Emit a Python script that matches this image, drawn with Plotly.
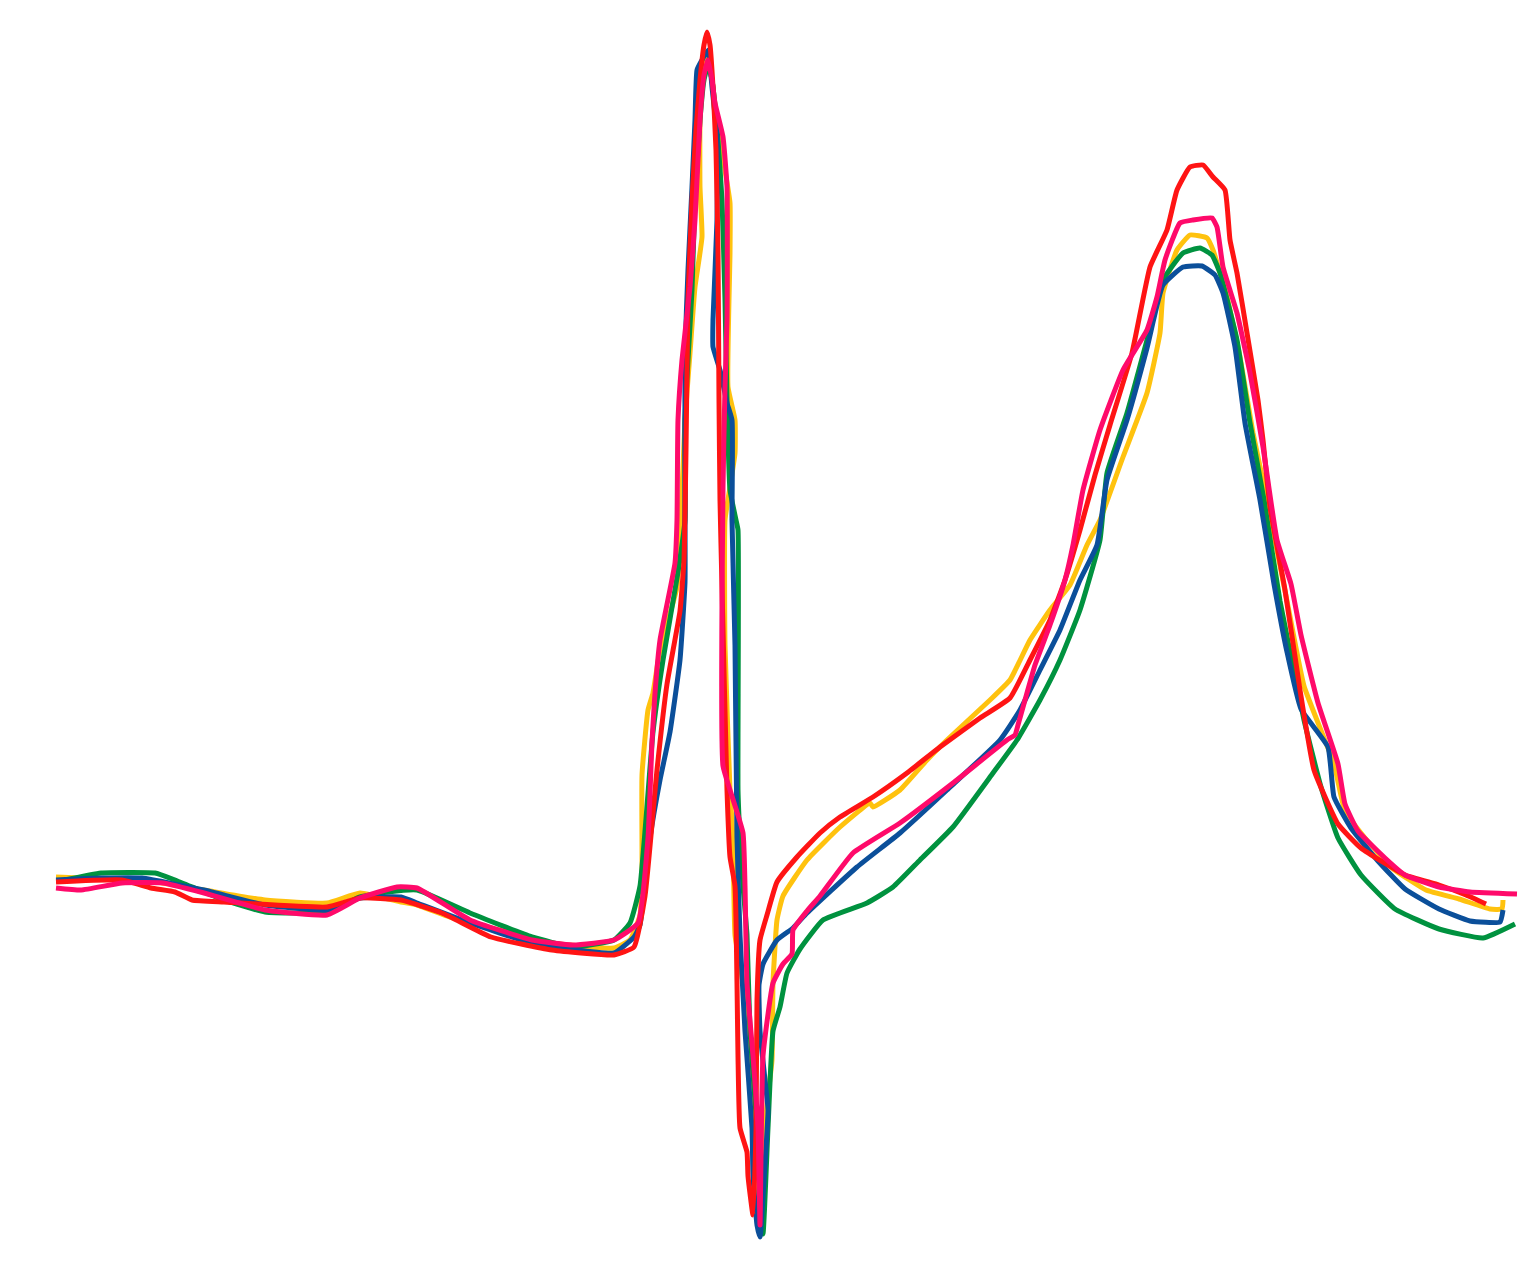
import plotly.graph_objects as go

# time (arbitrary sample units) and amplitude (arbitrary units)
yellow_t = [0, 25, 86, 148, 209, 271, 304, 345, 361, 394, 435, 496, 558, 574, 584, 586, 586, 592, 597, 604, 621, 624, 629, 634, 639, 646, 644, 644, 647, 651, 656, 662, 669, 674, 674, 672, 679, 679, 674, 669, 669, 674, 677, 679, 687, 696, 699, 701, 706, 711, 716, 717, 721, 727, 751, 784, 814, 817, 844, 871, 891, 934, 954, 974, 994, 1014, 1031, 1044, 1067, 1091, 1104, 1107, 1121, 1134, 1151, 1157, 1171, 1184, 1197, 1211, 1231, 1248, 1278, 1289, 1309, 1336, 1370, 1403, 1434, 1446, 1447]
yellow_v = [3, 2, 0, -10, -20, -23, -13, -22, -25, -37, -48, -63, -68, -60, -35, 10, 105, 170, 187, 230, 293, 340, 460, 527, 593, 643, 693, 760, 805, 825, 800, 750, 710, 677, 627, 493, 460, 427, 393, 360, 235, 90, 42, -55, -103, -224, -272, -335, -300, -224, -180, -103, -40, -16, 20, 53, 77, 73, 90, 120, 140, 180, 200, 240, 270, 295, 335, 360, 423, 487, 547, 587, 630, 645, 642, 630, 583, 523, 447, 380, 279, 194, 116, 69, 42, 12, -10, -19, -29, -29, -20]

green_t = [9, 45, 99, 119, 168, 209, 271, 304, 332, 361, 414, 476, 517, 558, 574, 584, 597, 607, 622, 629, 629, 632, 636, 639, 644, 648, 652, 656, 662, 666, 669, 671, 674, 680, 682, 682, 684, 687, 691, 694, 701, 707, 712, 717, 724, 731, 744, 767, 811, 837, 864, 897, 937, 961, 984, 1004, 1024, 1044, 1051, 1071, 1091, 1107, 1127, 1144, 1156, 1164, 1181, 1194, 1208, 1224, 1248, 1265, 1282, 1305, 1339, 1383, 1427, 1459]
green_v = [0, 7, 7, 0, -20, -32, -32, -17, -12, -10, -33, -57, -67, -60, -43, -6, 148, 220, 308, 360, 460, 520, 590, 680, 760, 800, 815, 800, 740, 680, 580, 480, 390, 360, 350, 90, 42, -6, -55, -151, -248, -354, -248, -151, -127, -93, -69, -40, -23, -7, 20, 53, 107, 140, 180, 220, 270, 340, 407, 467, 540, 600, 627, 632, 625, 607, 540, 457, 380, 279, 160, 93, 42, 5, -29, -49, -58, -44]

blue_t = [0, 45, 86, 148, 209, 271, 304, 345, 361, 414, 476, 558, 578, 584, 594, 604, 614, 624, 629, 629, 629, 632, 636, 639, 641, 646, 652, 656, 661, 661, 657, 657, 664, 671, 676, 676, 679, 681, 684, 689, 696, 697, 701, 704, 708, 712, 709, 704, 703, 707, 721, 737, 751, 801, 844, 891, 944, 964, 984, 1004, 1024, 1041, 1051, 1071, 1091, 1107, 1127, 1146, 1159, 1167, 1179, 1189, 1204, 1218, 1231, 1245, 1272, 1278, 1295, 1322, 1349, 1383, 1414, 1444, 1447]
blue_v = [0, 2, 2, -10, -25, -30, -18, -17, -23, -43, -63, -73, -57, -45, 42, 100, 148, 220, 298, 360, 527, 610, 693, 760, 810, 820, 830, 793, 743, 660, 560, 533, 510, 477, 460, 360, 235, 42, -55, -151, -248, -296, -345, -357, -300, -230, -200, -151, -105, -84, -60, -48, -33, 13, 47, 90, 140, 170, 210, 250, 300, 335, 400, 460, 532, 595, 613, 614, 605, 587, 533, 457, 380, 296, 228, 171, 133, 83, 52, 19, -9, -29, -41, -42, -30]

red_t = [0, 66, 95, 119, 136, 168, 271, 304, 345, 386, 435, 496, 558, 578, 589, 601, 611, 624, 628, 630, 632, 636, 640, 644, 648, 651, 654, 657, 660, 662, 663, 664, 666, 671, 674, 679, 681, 682, 684, 691, 692, 697, 700, 701, 704, 711, 721, 741, 764, 784, 817, 851, 884, 924, 954, 974, 994, 1009, 1024, 1039, 1054, 1076, 1094, 1111, 1121, 1134, 1147, 1157, 1169, 1174, 1181, 1191, 1202, 1207, 1214, 1229, 1244, 1258, 1282, 1305, 1349, 1383, 1410, 1430]
red_v = [-2, 0, -8, -12, -20, -22, -27, -18, -20, -33, -57, -70, -75, -67, -16, 110, 196, 269, 320, 430, 580, 680, 750, 800, 835, 848, 835, 793, 730, 630, 480, 380, 293, 90, 23, -6, -103, -176, -248, -272, -296, -335, -250, -120, -60, -35, -2, 23, 47, 63, 83, 107, 133, 162, 182, 220, 260, 300, 350, 405, 455, 527, 613, 650, 690, 713, 715, 703, 690, 640, 607, 547, 480, 440, 373, 290, 190, 110, 56, 32, 5, -5, -15, -24]

pink_t = [0, 25, 66, 107, 148, 209, 271, 304, 341, 361, 414, 476, 517, 558, 582, 592, 596, 599, 604, 619, 621, 622, 626, 634, 639, 644, 648, 652, 656, 659, 667, 671, 671, 669, 667, 667, 674, 687, 689, 691, 697, 702, 704, 707, 717, 727, 736, 737, 751, 764, 797, 844, 897, 951, 959, 962, 969, 979, 994, 1009, 1017, 1027, 1044, 1067, 1091, 1101, 1109, 1124, 1137, 1156, 1161, 1167, 1181, 1194, 1207, 1221, 1235, 1245, 1262, 1282, 1289, 1302, 1329, 1349, 1383, 1414, 1461]
pink_v = [-8, -10, -3, -3, -13, -30, -35, -18, -7, -8, -40, -60, -65, -60, -43, 42, 138, 187, 240, 317, 360, 460, 520, 593, 660, 760, 805, 820, 800, 777, 743, 693, 560, 493, 393, 114, 90, 47, -6, -103, -176, -248, -345, -176, -103, -84, -74, -50, -31, -16, 27, 57, 97, 140, 145, 155, 180, 215, 255, 300, 335, 390, 450, 510, 550, 583, 620, 657, 660, 662, 653, 613, 567, 507, 433, 340, 296, 245, 177, 116, 76, 49, 22, 5, -7, -12, -14]

series = [
    ("Yellow", yellow_t, yellow_v, "#FFC20E"),
    ("Green", green_t, green_v, "#00923F"),
    ("Blue", blue_t, blue_v, "#0B4F9A"),
    ("Red", red_t, red_v, "#FF1414"),
    ("Pink", pink_t, pink_v, "#FF0A6A"),
]

fig = go.Figure()
for name, t, v, c in series:
    fig.add_trace(go.Scatter(x=t, y=v, mode="lines", name=name,
                             line=dict(color=c, width=5, shape="spline", smoothing=0.4),
                             hoverinfo="skip"))

fig.update_layout(
    width=1537, height=1272,
    margin=dict(l=0, r=0, t=0, b=0),
    paper_bgcolor="white", plot_bgcolor="white",
    showlegend=False,
    xaxis=dict(range=[-56, 1481], visible=False, fixedrange=True),
    yaxis=dict(range=[-392, 880], visible=False, fixedrange=True),
)

fig.write_html("out.html", config={"displayModeBar": False},
               post_script="document.body.style.margin='0';document.body.style.overflow='hidden';")
